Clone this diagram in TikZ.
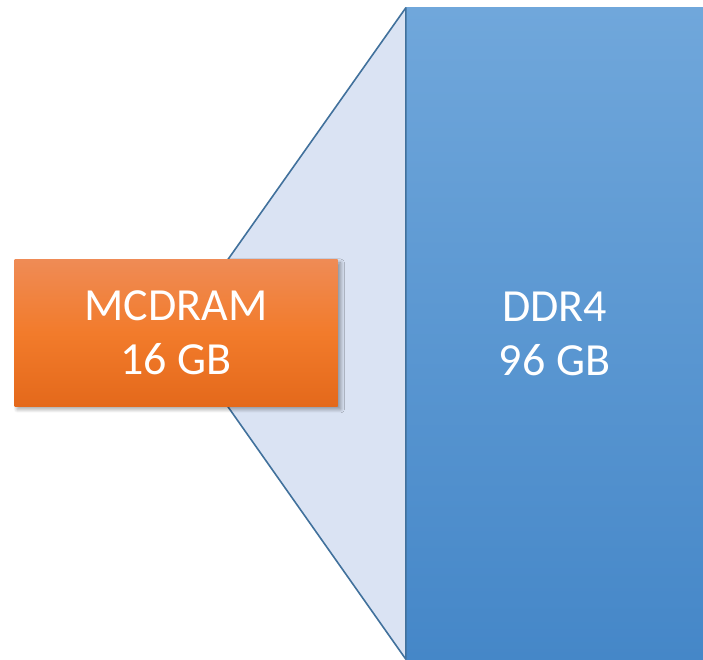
\documentclass[tikz,border=0pt]{standalone}
\usepackage{fontspec}
\setmainfont{Carlito}
\usepackage{tikz}
\usepackage{xcolor}
\usetikzlibrary{shadows.blur}
\definecolor{mem-orange-top}{HTML}{EF8B55}
\definecolor{mem-orange-mid}{HTML}{F27B2B}
\definecolor{mem-orange-bot}{HTML}{E4691B}
\definecolor{mem-blue-top}{HTML}{70A7DB}
\definecolor{mem-blue-bot}{HTML}{4587C8}
\definecolor{mem-fan}{HTML}{DAE3F3}
\definecolor{mem-edge}{HTML}{41719C}
\tikzset{
    mem-text/.style = {text=white, align=center, font=\fontsize{46}{54}\selectfont},
    fast-box/.style = {mem-text, rectangle, top color=mem-orange-top, bottom color=mem-orange-bot, middle color=mem-orange-mid, minimum width=323pt, minimum height=146pt, inner sep=0pt,
        blur shadow={shadow xshift=3pt, shadow yshift=-3pt, shadow opacity=40, shadow blur steps=8, shadow blur radius=4pt}},
    big-box/.style = {mem-text, rectangle, top color=mem-blue-top, bottom color=mem-blue-bot, minimum width=297pt, minimum height=651pt, inner sep=0pt},
    fan/.style = {fill=mem-fan, draw=mem-edge, line width=1.6pt, line join=round},
}
\begin{document}
\begin{tikzpicture}[x=1pt, y=1pt]
\useasboundingbox (0,0) rectangle (703,659);
\node [big-box] (ddr) at (554.5,325.5) {DDR4\\96 GB};
\coordinate (apex) at (176,326);
\draw [fan] (apex) -- (ddr.north west) -- (ddr.south west) -- cycle;
\node [fast-box] (mcdram) at (apex) {MCDRAM\\16 GB};
\end{tikzpicture}
\end{document}
